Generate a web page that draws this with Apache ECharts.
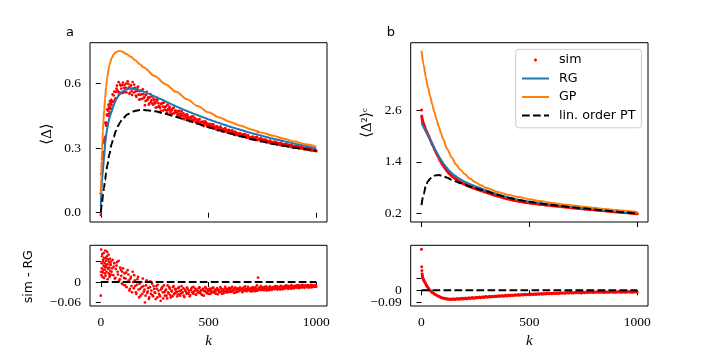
<!DOCTYPE html>
<html><head><meta charset="utf-8">
<script src="https://cdn.jsdelivr.net/npm/echarts/dist/echarts.min.js"></script>
<style>html,body{margin:0;padding:0;background:#fff}#c{width:720px;height:360px}</style>
</head><body><div id="c"></div>
<script>
// ---- data ----
const kSim = [0,1,2,3,4,5,6,8,10,12,14,17,20,23,26,30,34,38,42,46,50,
55,60,65,70,75,80,85,90,95,100,105,110,115,120,125,130,135,140,145,150,
155,160,165,170,175,180,185,190,195,200,205,210,215,220,225,230,235,240,245,250,
255,260,265,270,275,280,285,290,295,300,305,310,315,320,325,330,335,340,345,350,
355,360,365,370,375,380,385,390,395,400,405,410,415,420,425,430,435,440,445,450,
455,460,465,470,475,480,485,490,495,500,505,510,515,520,525,530,535,540,545,550,
555,560,565,570,575,580,585,590,595,600,605,610,615,620,625,630,635,640,645,650,
655,660,665,670,675,680,685,690,695,700,705,710,715,720,725,730,735,740,745,750,
755,760,765,770,775,780,785,790,795,800,805,810,815,820,825,830,835,840,845,850,
855,860,865,870,875,880,885,890,895,900,905,910,915,920,925,930,935,940,945,950,
955,960,965,970,975,980,985,990,995,1000];

// panel a: RG curve and sim - RG residual
const rgL = [0.030,0.060,0.085,0.105,0.125,0.140,0.155,0.178,0.198,0.222,0.245,0.278,0.318,0.345,0.368,0.393,0.414,0.432,0.447,0.459,0.470,
0.485,0.500,0.513,0.524,0.533,0.541,0.548,0.554,0.559,0.563,
0.566,0.569,0.572,0.574,0.576,0.577,0.578,0.578,0.578,0.577,
0.576,0.575,0.574,0.573,0.571,0.570,0.568,0.566,0.564,0.562,
0.560,0.558,0.556,0.554,0.552,0.550,0.547,0.545,0.543,0.541,
0.539,0.537,0.535,0.532,0.530,0.528,0.525,0.523,0.520,0.518,
0.516,0.513,0.511,0.508,0.506,0.504,0.501,0.499,0.496,0.494,
0.492,0.490,0.488,0.486,0.484,0.481,0.479,0.477,0.475,0.473,
0.471,0.469,0.467,0.465,0.463,0.461,0.459,0.457,0.455,0.453,
0.451,0.449,0.447,0.445,0.444,0.442,0.440,0.438,0.436,0.434,
0.432,0.431,0.429,0.427,0.425,0.424,0.422,0.420,0.418,0.417,
0.415,0.413,0.412,0.410,0.408,0.407,0.405,0.403,0.402,0.400,
0.398,0.397,0.395,0.394,0.392,0.391,0.389,0.388,0.386,0.385,
0.383,0.382,0.380,0.379,0.377,0.376,0.374,0.373,0.371,0.370,
0.369,0.367,0.366,0.365,0.363,0.362,0.361,0.360,0.358,0.357,
0.356,0.354,0.353,0.352,0.350,0.349,0.348,0.346,0.345,0.344,
0.343,0.342,0.340,0.339,0.338,0.337,0.336,0.335,0.334,0.332,
0.331,0.330,0.329,0.328,0.327,0.326,0.325,0.323,0.322,0.321,
0.320,0.319,0.318,0.317,0.316,0.315,0.314,0.313,0.312,0.311,
0.310,0.309,0.308,0.307,0.305,0.304,0.303,0.302,0.301,0.300];

const resL = [-0.040,0.030,0.095,0.020,0.055,0.040,0.075,0.015,0.060,0.035,0.085,0.045,0.025,0.070,0.050,0.088,0.040,0.060,0.020,0.052,0.030,
0.065,0.045,0.010,0.038,0.058,0.022,0.003,0.042,0.018,0.030,
-0.008,0.025,0.010,-0.015,0.035,0.005,-0.020,0.015,-0.030,0.000,
0.020,-0.012,-0.035,0.008,-0.022,-0.005,-0.040,-0.015,0.010,-0.028,
-0.060,-0.010,-0.032,-0.018,-0.045,0.002,-0.025,-0.038,-0.012,-0.030,
-0.050,-0.020,-0.008,-0.035,-0.042,-0.022,-0.015,-0.048,-0.030,-0.025,
-0.040,-0.010,-0.033,-0.020,-0.045,-0.028,-0.015,-0.036,-0.022,-0.030,
-0.042,-0.018,-0.027,-0.035,-0.012,-0.030,-0.040,-0.022,-0.028,-0.016,
-0.034,-0.025,-0.038,-0.020,-0.030,-0.014,-0.026,-0.036,-0.022,-0.029,
-0.018,-0.032,-0.024,-0.038,-0.020,-0.027,-0.015,-0.030,-0.022,-0.035,
-0.019,-0.026,-0.031,-0.016,-0.028,-0.023,-0.034,-0.018,-0.025,-0.030,
-0.015,-0.027,-0.022,-0.033,-0.019,-0.026,-0.021,-0.030,-0.017,-0.024,
-0.029,-0.014,-0.025,-0.020,-0.031,-0.018,-0.023,-0.027,-0.016,-0.022,
-0.028,-0.019,-0.024,-0.013,-0.026,-0.021,-0.017,-0.025,-0.020,-0.028,
-0.015,-0.022,-0.019,-0.026,-0.010,0.013,-0.021,-0.016,-0.024,-0.018,
-0.022,-0.014,-0.020,-0.025,-0.017,-0.021,-0.013,-0.019,-0.023,-0.016,
-0.020,-0.012,-0.018,-0.022,-0.015,-0.019,-0.011,-0.017,-0.021,-0.014,
-0.018,-0.010,-0.016,-0.020,-0.013,-0.017,-0.009,-0.015,-0.019,-0.012,
-0.016,-0.010,-0.014,-0.018,-0.011,-0.015,-0.008,-0.013,-0.017,-0.010,
-0.014,-0.009,-0.016,-0.012,-0.008,-0.015,-0.011,-0.013,-0.009,-0.014];

// panel a, further simulation points (k values between the ones above)
const kSim2 = [7,9,11,13,15,16,18,19,21,22,24,25,27,28,31,32,33,35,36,37,39,40,41,43,44,45,47,48,
53,58,63,68,73,78,83,88,93,98,103,108,113,118,123,128,133,138,143,148,
153,158,163,168,173,178,183,188,193,198,203,208,213,218,223,228,233,238,243,248,
253,258,263,268,273,278,283,288,293,298,303,308,313,318,323,328,333,338,343,348,
353,358,363,368,373,378,383,388,393,398,403,408,413,418,423,428,433,438,443,448,
453,458,463,468,473,478,483,488,493,498,503,508,513,518,523,528,533,538,543,548,
553,558,563,568,573,578,583,588,593,598,603,608,613,618,623,628,633,638,643,648,
653,658,663,668,673,678,683,688,693,698,703,708,713,718,723,728,733,738,743,748,
753,758,763,768,773,778,783,788,793,798,803,808,813,818,823,828,833,838,843,848,
853,858,863,868,873,878,883,888,893,898,903,908,913,918,923,928,933,938,943,948,
953,958,963,968,973,978,983,988,993,998];
const rgL2 = [0.167,0.188,0.210,0.234,0.256,0.267,0.291,0.304,0.327,0.336,0.353,0.361,0.375,0.381,0.399,0.404,0.409,0.419,0.423,0.428,0.436,0.440,0.444,0.450,0.453,0.456,0.462,0.465,
0.479,0.494,0.508,0.520,0.529,0.538,0.545,0.552,0.557,0.561,
0.565,0.568,0.571,0.573,0.575,0.577,0.578,0.578,0.578,0.578,
0.577,0.576,0.575,0.574,0.572,0.571,0.569,0.567,0.565,0.563,
0.561,0.559,0.557,0.555,0.553,0.551,0.549,0.546,0.544,0.542,
0.540,0.538,0.536,0.534,0.531,0.529,0.526,0.524,0.521,0.519,
0.517,0.514,0.512,0.509,0.507,0.505,0.502,0.500,0.497,0.495,
0.493,0.491,0.489,0.487,0.485,0.482,0.480,0.478,0.476,0.474,
0.472,0.470,0.468,0.466,0.464,0.462,0.460,0.458,0.456,0.454,
0.452,0.450,0.448,0.446,0.444,0.443,0.441,0.439,0.437,0.435,
0.433,0.431,0.430,0.428,0.426,0.424,0.423,0.421,0.419,0.417,
0.416,0.414,0.412,0.411,0.409,0.407,0.406,0.404,0.402,0.401,
0.399,0.397,0.396,0.394,0.393,0.391,0.390,0.388,0.387,0.385,
0.384,0.382,0.381,0.379,0.378,0.376,0.375,0.373,0.372,0.370,
0.369,0.368,0.366,0.365,0.364,0.362,0.361,0.360,0.359,0.357,
0.356,0.355,0.353,0.352,0.351,0.349,0.348,0.347,0.345,0.344,
0.343,0.342,0.341,0.339,0.338,0.337,0.336,0.335,0.334,0.333,
0.331,0.330,0.329,0.328,0.327,0.326,0.325,0.324,0.322,0.321,
0.320,0.319,0.318,0.317,0.316,0.315,0.314,0.313,0.312,0.311,
0.310,0.309,0.308,0.307,0.306,0.304,0.303,0.302,0.301,0.300];
const resL2 = [0.082,0.028,0.065,0.048,0.012,0.070,0.055,0.036,0.092,0.018,0.062,0.044,0.030,0.075,0.052,0.008,0.066,0.038,0.080,0.025,0.058,0.042,0.015,0.068,0.033,0.050,0.022,0.060,
0.040,0.020,0.055,0.012,0.048,0.030,0.062,0.008,0.035,-0.005,
0.040,0.012,-0.010,0.028,0.000,0.022,-0.025,0.010,-0.012,0.030,
-0.018,0.005,-0.030,-0.008,0.015,-0.045,-0.020,0.000,-0.035,-0.012,
-0.022,-0.040,0.005,-0.028,-0.050,-0.015,-0.035,-0.005,-0.042,-0.020,
-0.032,-0.012,-0.045,-0.025,-0.038,-0.055,-0.018,-0.030,-0.010,-0.040,
-0.022,-0.048,-0.030,-0.015,-0.038,-0.025,-0.042,-0.012,-0.033,-0.020,
-0.028,-0.036,-0.015,-0.040,-0.024,-0.032,-0.018,-0.044,-0.026,-0.034,
-0.020,-0.030,-0.042,-0.024,-0.016,-0.034,-0.028,-0.019,-0.037,-0.025,
-0.031,-0.015,-0.028,-0.036,-0.022,-0.040,-0.026,-0.018,-0.033,-0.027,
-0.024,-0.035,-0.020,-0.029,-0.017,-0.032,-0.026,-0.021,-0.036,-0.023,
-0.030,-0.019,-0.034,-0.024,-0.028,-0.014,-0.031,-0.025,-0.020,-0.029,
-0.018,-0.027,-0.022,-0.032,-0.016,-0.025,-0.029,-0.020,-0.024,-0.017,
-0.023,-0.030,-0.016,-0.025,-0.020,-0.027,-0.014,-0.022,-0.026,-0.018,
-0.024,-0.019,-0.027,-0.015,-0.021,-0.025,-0.017,-0.022,-0.012,-0.020,
-0.016,-0.024,-0.019,-0.013,-0.022,-0.018,-0.024,-0.015,-0.020,-0.017,
-0.014,-0.021,-0.017,-0.013,-0.019,-0.016,-0.022,-0.012,-0.018,-0.015,
-0.013,-0.019,-0.015,-0.011,-0.017,-0.014,-0.020,-0.012,-0.016,-0.013,
-0.011,-0.017,-0.013,-0.009,-0.015,-0.012,-0.016,-0.010,-0.014,-0.011,
-0.012,-0.015,-0.010,-0.013,-0.016,-0.011,-0.009,-0.014,-0.012,-0.010];

// panel b: RG curve and sim - RG residual
const rgR = [2.300,2.290,2.280,2.270,2.260,2.250,2.240,2.220,2.200,2.180,2.160,2.130,2.100,2.075,2.050,2.015,1.980,1.940,1.900,1.860,1.820,
1.770,1.720,1.670,1.625,1.580,1.535,1.492,1.450,1.412,1.376,
1.340,1.305,1.275,1.245,1.215,1.190,1.165,1.142,1.120,1.100,
1.082,1.064,1.047,1.030,1.013,0.997,0.982,0.967,0.953,0.940,
0.928,0.917,0.906,0.895,0.885,0.875,0.865,0.855,0.845,0.835,
0.826,0.816,0.807,0.797,0.788,0.779,0.770,0.761,0.752,0.744,
0.735,0.726,0.717,0.708,0.699,0.690,0.682,0.674,0.666,0.658,
0.650,0.642,0.634,0.626,0.618,0.611,0.604,0.597,0.590,0.583,
0.576,0.570,0.564,0.558,0.552,0.546,0.540,0.535,0.530,0.525,
0.520,0.515,0.510,0.505,0.501,0.497,0.493,0.489,0.485,0.481,
0.477,0.473,0.470,0.466,0.463,0.459,0.456,0.452,0.449,0.446,
0.443,0.439,0.436,0.433,0.430,0.427,0.424,0.421,0.418,0.415,
0.412,0.409,0.406,0.403,0.400,0.397,0.394,0.391,0.388,0.385,
0.382,0.379,0.376,0.373,0.370,0.367,0.364,0.361,0.358,0.355,
0.352,0.350,0.347,0.345,0.342,0.340,0.337,0.335,0.332,0.330,
0.327,0.325,0.322,0.320,0.317,0.315,0.312,0.310,0.307,0.305,
0.303,0.300,0.298,0.295,0.293,0.290,0.288,0.286,0.283,0.281,
0.279,0.276,0.274,0.271,0.269,0.267,0.264,0.262,0.259,0.257,
0.255,0.253,0.250,0.248,0.246,0.244,0.242,0.239,0.237,0.235,
0.233,0.230,0.228,0.226,0.224,0.221,0.219,0.217,0.214,0.212];

const resR = [0.300,0.172,0.145,0.121,0.108,0.098,0.090,0.084,0.076,0.070,0.062,0.055,0.046,0.038,0.030,0.020,0.012,0.003,-0.004,-0.010,-0.016,
-0.020,-0.027,-0.031,-0.036,-0.040,-0.044,-0.047,-0.052,-0.054,-0.056,
-0.060,-0.058,-0.063,-0.061,-0.066,-0.064,-0.068,-0.063,-0.066,-0.062,
-0.067,-0.063,-0.060,-0.065,-0.061,-0.064,-0.059,-0.063,-0.058,-0.061,
-0.057,-0.062,-0.058,-0.055,-0.060,-0.056,-0.053,-0.058,-0.054,-0.056,
-0.051,-0.055,-0.052,-0.049,-0.054,-0.050,-0.047,-0.052,-0.048,-0.046,
-0.050,-0.047,-0.044,-0.049,-0.045,-0.043,-0.047,-0.044,-0.041,-0.046,
-0.042,-0.040,-0.044,-0.041,-0.038,-0.043,-0.039,-0.037,-0.041,-0.038,
-0.035,-0.040,-0.037,-0.034,-0.038,-0.035,-0.033,-0.037,-0.034,-0.031,
-0.036,-0.033,-0.030,-0.034,-0.031,-0.029,-0.033,-0.030,-0.028,-0.032,
-0.029,-0.027,-0.031,-0.028,-0.026,-0.030,-0.027,-0.025,-0.029,-0.026,
-0.024,-0.028,-0.025,-0.023,-0.027,-0.024,-0.022,-0.026,-0.023,-0.021,
-0.025,-0.022,-0.020,-0.024,-0.021,-0.019,-0.023,-0.020,-0.018,-0.022,
-0.019,-0.017,-0.021,-0.018,-0.016,-0.020,-0.017,-0.015,-0.019,-0.016,
-0.020,-0.017,-0.015,-0.018,-0.014,-0.017,-0.015,-0.019,-0.016,-0.013,
-0.017,-0.014,-0.012,-0.016,-0.013,-0.015,-0.011,-0.014,-0.016,-0.012,
-0.015,-0.013,-0.010,-0.014,-0.012,-0.015,-0.011,-0.013,-0.016,-0.012,
-0.010,-0.014,-0.012,-0.015,-0.011,-0.013,-0.010,-0.014,-0.012,-0.015,
-0.011,-0.013,-0.009,-0.012,-0.014,-0.010,-0.013,-0.011,-0.014,-0.010,
-0.012,-0.009,-0.013,-0.011,-0.014,-0.010,-0.012,-0.009,-0.013,-0.011];

// GP and linear-order PT curves
const kGPL = [0,2,4,6,8,10,12,16,20,25,30,40,50,60,70,80,90,100,120,140,160,180,200,250,300,350,400,450,500,550,600,650,700,750,800,850,900,950,1000];
const vGPL = [0.090,0.170,0.240,0.290,0.340,0.380,0.420,0.480,0.530,0.585,0.630,0.685,0.718,0.737,0.747,0.751,0.752,0.749,0.738,0.725,0.709,0.692,0.675,0.636,0.598,0.562,0.528,0.496,0.467,0.443,0.422,0.404,0.387,0.372,0.358,0.344,0.331,0.318,0.307];
const kPTL = [0,5,10,15,20,25,30,40,50,60,70,80,90,100,125,150,175,200,250,300,350,400,450,500,550,600,650,700,750,800,850,900,950,1000];
const vPTL = [0.000,0.040,0.078,0.115,0.152,0.186,0.218,0.272,0.318,0.352,0.380,0.403,0.421,0.435,0.458,0.471,0.477,0.478,0.472,0.460,0.445,0.430,0.414,0.398,0.383,0.368,0.355,0.342,0.331,0.320,0.311,0.302,0.295,0.288];
const kGPR = [0,10,20,30,40,50,60,70,80,90,100,120,140,160,180,200,225,250,275,300,350,400,450,500,550,600,650,700,750,800,850,900,950,1000];
const vGPR = [3.97,3.65,3.36,3.12,2.92,2.73,2.55,2.38,2.22,2.07,1.93,1.69,1.50,1.34,1.22,1.12,1.01,0.93,0.86,0.80,0.71,0.64,0.585,0.535,0.492,0.455,0.42,0.39,0.362,0.335,0.31,0.285,0.262,0.24];
const kPTR = [0,10,20,30,40,50,60,70,80,90,100,120,140,160,180,200,225,250,275,300,350,400,450,500,550,600,650,700,750,800,850,900,950,1000];
const vPTR = [0.40,0.65,0.84,0.95,1.01,1.055,1.08,1.092,1.093,1.085,1.07,1.03,0.985,0.945,0.91,0.875,0.83,0.79,0.752,0.718,0.64,0.572,0.52,0.475,0.437,0.405,0.376,0.35,0.325,0.30,0.276,0.252,0.229,0.207];

const zeroK = [0, 1000];
const zeroV = [0, 0];

// ticks
const xTicks = [0, 500, 1000];
const yTicksA = [0, 0.3, 0.6];
const yTicksB = [0.2, 1.4, 2.6];
const yTicksResA = [-0.06, 0, 0.06];
const yLabelsResA = [-0.06, 0];
const yTicksResB = [-0.09, 0, 0.09];
const yLabelsResB = [0];
const yLabelsResBLow = [-0.09];

// ---- chart ----
const zip = (xs, ys) => xs.map((x, i) => [x, ys[i]]);
const simA = kSim.map((k, i) => [k, rgL[i] + resL[i]]).concat(kSim2.map((k, i) => [k, rgL2[i] + resL2[i]]));
const resA = zip(kSim, resL).concat(zip(kSim2, resL2));
const simB = kSim.map((k, i) => [k, rgR[i] + resR[i]]);

const SERIF = '"Liberation Serif", "DejaVu Serif", serif';
const SANS = '"DejaVu Sans", sans-serif';
const BLUE = '#1f77b4', ORANGE = '#ff7f0e', RED = '#ff0000';

const grids = [
  {left: 90, top: 42.7, width: 237, height: 179.3},
  {left: 410.7, top: 42.7, width: 237.3, height: 179.3},
  {left: 90, top: 245.3, width: 237, height: 60.7},
  {left: 410.7, top: 245.3, width: 237.3, height: 60.7}
].map(g => Object.assign({show: true, borderColor: '#000', borderWidth: 1, backgroundColor: 'rgba(0,0,0,0)'}, g));

function xAx(i, labels) {
  return {
    type: 'value', gridIndex: i, min: -50, max: 1050,
    axisLine: {show: false}, splitLine: {show: false},
    axisTick: {show: true, customValues: xTicks, length: 5, lineStyle: {color: '#000', width: 1}},
    axisLabel: {show: labels, customValues: xTicks, margin: 9, color: '#000', fontFamily: SERIF, fontSize: 13.5,
      hideOverlap: false, formatter: v => String(v)},
    name: labels ? 'k' : '', nameLocation: 'middle', nameGap: 28,
    nameTextStyle: {fontFamily: SERIF, fontStyle: 'italic', fontSize: 15, color: '#000'}
  };
}
function fmtMinus(v) {
  return (v < 0 ? '\u2212' : '') + Math.abs(v);
}
function yAx(i, min, max, ticks, labels, fmt) {
  return {
    type: 'value', gridIndex: i, min: min, max: max, position: 'left', offset: 0,
    axisLine: {show: false}, splitLine: {show: false},
    axisTick: {show: ticks.length > 0, customValues: ticks, length: 5, lineStyle: {color: '#000', width: 1}},
    axisLabel: {customValues: labels, margin: 9, color: '#000', fontFamily: SERIF, fontSize: 13.5,
      hideOverlap: false, formatter: fmt}
  };
}

const lineS = (name, xi, yi, data, color, dashed) => ({
  type: 'line', name: name, xAxisIndex: xi, yAxisIndex: yi, data: data,
  symbol: 'none', showSymbol: false, smooth: false, silent: true,
  lineStyle: {color: color, width: 2, type: dashed ? [7.7, 3.3] : 'solid'},
  itemStyle: {color: color}
});
const smoothS = (name, xi, data, color, dashed) => Object.assign(lineS(name, xi, xi, data, color, dashed), {smooth: 0.3, smoothMonotone: 'x'});
const scatS = (name, xi, data, size) => ({
  type: 'scatter', name: name, xAxisIndex: xi, yAxisIndex: xi, data: data,
  symbolSize: size, silent: true, itemStyle: {color: RED, opacity: 1}
});

const option = {
  animation: false,
  backgroundColor: '#fff',
  grid: grids,
  xAxis: [xAx(0, false), xAx(1, false), xAx(2, true), xAx(3, true)],
  yAxis: [
    yAx(0, -0.0433, 0.7907, yTicksA, yTicksA, v => v.toFixed(1)),
    yAx(1, 0.008, 4.158, yTicksB, yTicksB, v => v.toFixed(1)),
    yAx(2, -0.0702, 0.1074, yTicksResA, yLabelsResA, fmtMinus),
    yAx(3, -0.1148, 0.3292, yTicksResB, yLabelsResB, fmtMinus),
    yAx(3, -0.1148, 0.3292, [], yLabelsResBLow, fmtMinus)
  ],
  legend: {
    orient: 'vertical', left: 515.7, top: 49.3,
    itemWidth: 27, itemHeight: 3, itemGap: 2.5,
    padding: [2.7, 6, 4.3, 5.3],
    backgroundColor: 'rgba(255,255,255,0.8)', borderColor: '#cccccc', borderWidth: 1, borderRadius: 3,
    selectedMode: false,
    textStyle: {fontFamily: SANS, fontSize: 12.7, color: '#000', lineHeight: 16, padding: [0, 0, 0, 5]},
    data: [
      {name: 'sim', icon: 'circle'},
      {name: 'RG', itemStyle: {color: 'rgba(0,0,0,0)'}},
      {name: 'GP', itemStyle: {color: 'rgba(0,0,0,0)'}},
      {name: 'lin. order PT', itemStyle: {color: 'rgba(0,0,0,0)'}}
    ]
  },
  graphic: [
    {type: 'text', x: 70, y: 32.5, style: {text: 'a', fontFamily: SANS, fontSize: 13, fill: '#000', align: 'center', verticalAlign: 'middle'}},
    {type: 'text', x: 391, y: 32.5, style: {text: 'b', fontFamily: SANS, fontSize: 13, fill: '#000', align: 'center', verticalAlign: 'middle'}},
    {type: 'text', x: 46.7, y: 134, rotation: Math.PI / 2, style: {text: '\u27E8\u0394\u27E9', fontFamily: SERIF, fontSize: 15, fill: '#000', align: 'center', verticalAlign: 'middle'}},
    {type: 'text', x: 367, y: 123, rotation: Math.PI / 2, style: {text: '\u27E8\u0394\u00B2\u27E9\u1D9C', fontFamily: SERIF, fontSize: 15, fill: '#000', align: 'center', verticalAlign: 'middle'}},
    {type: 'text', x: 29, y: 276.7, rotation: Math.PI / 2, style: {text: 'sim - RG', fontFamily: SANS, fontSize: 12.5, fill: '#000', align: 'center', verticalAlign: 'middle'}}
  ],
  series: [
    scatS('sim', 0, simA, 2.7),
    lineS('RG', 0, 0, zip(kSim, rgL), BLUE, false),
    smoothS('GP', 0, zip(kGPL, vGPL), ORANGE, false),
    smoothS('lin. order PT', 0, zip(kPTL, vPTL), '#000', true),
    scatS('sim', 1, simB, 3),
    lineS('RG', 1, 1, zip(kSim, rgR), BLUE, false),
    smoothS('GP', 1, zip(kGPR, vGPR), ORANGE, false),
    smoothS('lin. order PT', 1, zip(kPTR, vPTR), '#000', true),
    scatS('sim - RG', 2, resA, 2.7),
    lineS('zero', 2, 2, zip(zeroK, zeroV), '#000', true),
    scatS('sim - RG', 3, zip(kSim, resR), 3),
    lineS('zero', 3, 3, zip(zeroK, zeroV), '#000', true)
  ]
};
const chart = echarts.init(document.getElementById('c'));
chart.setOption(option);
</script></body></html>
